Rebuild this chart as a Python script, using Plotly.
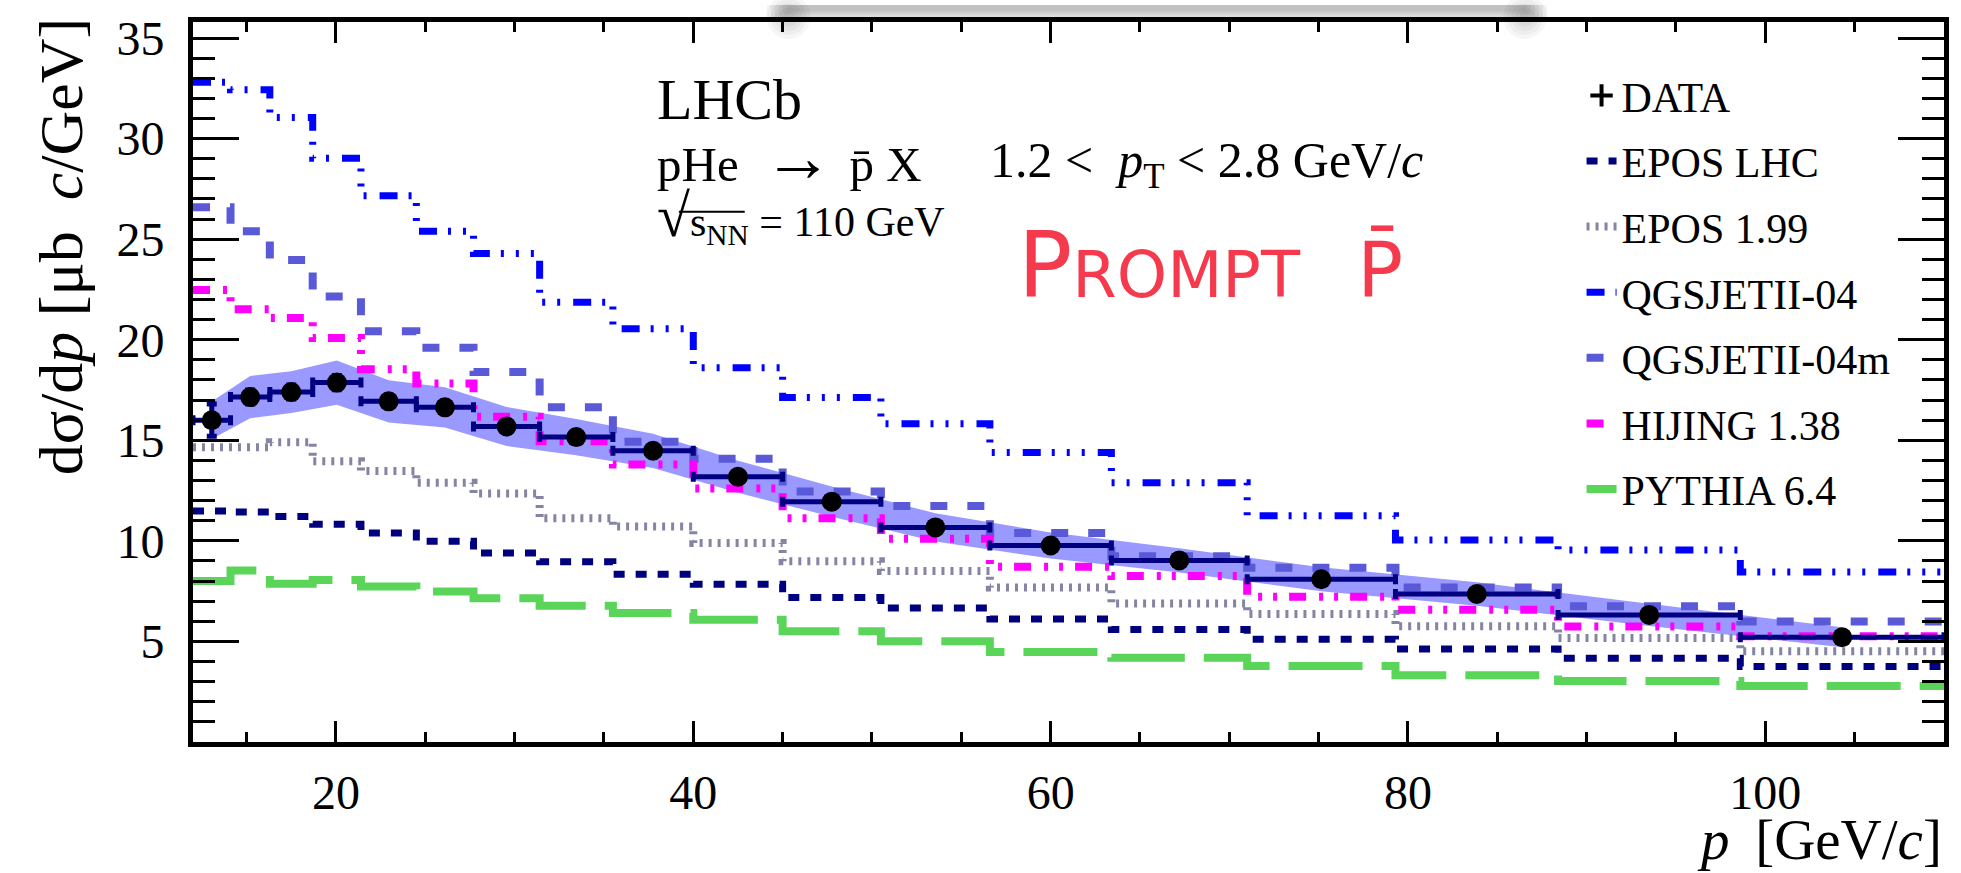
import plotly.graph_objects as go

# ---------------- data ----------------
bin_edges = [12.0, 14.1, 16.3, 18.7, 21.4, 24.5, 27.7, 31.4, 35.5, 40.0,
             45.0, 50.5, 56.6, 63.4, 71.0, 79.3, 88.4, 98.6, 110.0]
p_centers = [13.05, 15.2, 17.5, 20.05, 22.95, 26.1, 29.55, 33.45, 37.75, 42.5,
             47.75, 53.55, 60.0, 67.2, 75.15, 83.85, 93.5, 104.3]

data_xsec = [16.0, 17.15, 17.4, 17.87, 16.94, 16.64, 15.69, 15.16, 14.48, 13.19,
             11.95, 10.67, 9.77, 9.03, 8.09, 7.36, 6.32, 5.21]
stat_err = [0.8, 0.35, 0.35, 0.35, 0.3, 0.3, 0.3, 0.3, 0.3, 0.25,
            0.25, 0.2, 0.2, 0.2, 0.2, 0.2, 0.2, 0.2]
syst_err = [0.93, 1.05, 1.04, 1.1, 1.05, 1.0, 0.97, 0.9, 0.85, 0.8,
            0.75, 0.7, 0.65, 0.6, 0.6, 0.58, 0.55, 0.5]

epos_lhc = [11.49, 11.43, 11.21, 10.83, 10.39, 9.98, 9.40, 8.96, 8.34, 7.84,
            7.18, 6.66, 6.12, 5.59, 5.11, 4.63, 4.17, 3.76]
epos_199 = [14.66, 14.66, 14.9, 13.96, 13.47, 12.89, 12.36, 11.13, 10.72, 9.90,
            8.99, 8.50, 7.68, 6.89, 6.36, 5.75, 5.17, 4.51]
qgsjet_04 = [32.8, 32.43, 31.05, 29.02, 27.16, 25.39, 24.29, 21.87, 20.55, 18.61,
             17.13, 15.82, 14.39, 12.89, 11.25, 10.05, 9.55, 8.45]
qgsjet_04m = [26.59, 25.39, 23.96, 22.15, 20.42, 19.6, 18.4, 16.64, 14.93, 14.09,
              12.45, 11.74, 10.39, 9.24, 8.66, 7.68, 6.75, 5.99]
hijing = [22.48, 21.52, 21.08, 20.09, 18.54, 17.83, 16.17, 14.95, 13.8, 12.6,
          11.12, 10.1, 8.71, 8.25, 7.22, 6.58, 5.74, 5.26]
pythia = [8.0, 8.53, 7.87, 8.05, 7.73, 7.48, 7.15, 6.77, 6.41, 6.08,
          5.51, 5.01, 4.47, 4.19, 3.78, 3.32, 3.03, 2.79]

y_tickvals = [5, 10, 15, 20, 25, 30, 35]
y_ticktext = ["5", "10", "15", "20", "25", "30", "35"]

model_names = ["EPOS LHC", "EPOS 1.99", "QGSJETII-04", "QGSJETII-04m", "HIJING 1.38", "PYTHIA 6.4"]
model_values = [epos_lhc, epos_199, qgsjet_04, qgsjet_04m, hijing, pythia]

# ---------------- styles ----------------
NAVY = "#000080"
model_styles = {
    "EPOS LHC": dict(color="#00007F", width=7, dash="11px,11px"),
    "EPOS 1.99": dict(color="#8585A3", width=8, dash="3px,6px"),
    "QGSJETII-04": dict(color="#0000FF", width=7, dash="18px,11px,3px,12px,3px,12px,3px,13px"),
    "QGSJETII-04m": dict(color="#5A5AD8", width=8, dash="17px,20px"),
    "HIJING 1.38": dict(color="#FF00FF", width=8, dash="17px,13px,4px,11px,4px,12px"),
    "PYTHIA 6.4": dict(color="#5AD55A", width=8, dash="74px,19px"),
}
FONT = "Liberation Serif"

fig = go.Figure()

# systematic band
upper = [v + e for v, e in zip(data_xsec, syst_err)]
lower = [v - e for v, e in zip(data_xsec, syst_err)]
fig.add_trace(go.Scatter(
    x=p_centers + p_centers[::-1], y=upper + lower[::-1],
    fill="toself", fillcolor="rgb(153,153,255)", line=dict(width=0),
    mode="lines", showlegend=False, hoverinfo="skip"))

# model histograms
for rank, (name, vals) in enumerate(zip(model_names, model_values), start=2):
    st = model_styles[name]
    fig.add_trace(go.Scatter(
        x=bin_edges, y=vals + [vals[-1]], mode="lines", name=name,
        legendgroup=name, legendrank=rank,
        line=dict(shape="hv", color=st["color"], width=st["width"], dash=st["dash"])))

# data points
xminus = [c - lo for c, lo in zip(p_centers, bin_edges[:-1])]
xplus = [hi - c for c, hi in zip(p_centers, bin_edges[1:])]
fig.add_trace(go.Scatter(
    x=p_centers, y=data_xsec, mode="markers", showlegend=False,
    marker=dict(color="black", size=20),
    error_x=dict(type="data", symmetric=False, array=xplus, arrayminus=xminus,
                 color=NAVY, thickness=5, width=5),
    error_y=dict(type="data", array=stat_err, color=NAVY, thickness=5, width=5)))

# legend entry for data (cross symbol)
fig.add_trace(go.Scatter(
    x=[None], y=[None], mode="markers", name="DATA", legendgroup="DATA", legendrank=1,
    marker=dict(symbol="cross-thin", size=30, color="black", line=dict(width=4, color="black"))))

# ---------------- layout ----------------
axis_common = dict(showline=True, linewidth=5, linecolor="black", mirror="ticks",
                   ticks="inside", tickwidth=3, tickcolor="black", showgrid=False,
                   zeroline=False, tickfont=dict(family=FONT, size=48, color="black"))

fig.update_layout(
    width=1961, height=873,
    margin=dict(l=193, r=13, t=17, b=131),
    paper_bgcolor="white", plot_bgcolor="white",
    font=dict(family=FONT, color="black"),
    xaxis=dict(range=[12, 110], tickmode="linear", tick0=0, dtick=20, ticklen=21,
               ticklabelstandoff=4,
               minor=dict(ticks="inside", ticklen=10, tickwidth=3, tickcolor="black",
                          tickmode="linear", tick0=0, dtick=5),
               **axis_common),
    yaxis=dict(range=[0, 35.8], tickmode="array", tickvals=y_tickvals, ticktext=y_ticktext,
               ticklen=46, ticklabelstandoff=14,
               minor=dict(ticks="inside", ticklen=22, tickwidth=3, tickcolor="black",
                          tickmode="linear", tick0=0, dtick=1),
               **axis_common),
    legend=dict(x=0.793, y=0.945, xanchor="left", yanchor="top",
                bgcolor="rgba(0,0,0,0)", borderwidth=0,
                font=dict(family=FONT, size=42, color="black"),
                tracegroupgap=8, traceorder="grouped"),
    showlegend=True,
)

W, H, L, B = 1755.0, 725.0, 193.0, 742.0


def px(x):
    return (x - L) / W


def py(y):
    return (B - y) / H


annotations = [
    dict(text="LHCb", x=px(656), y=py(95), font=dict(size=58)),
    dict(text="pHe\u00a0\u00a0<span style='font-size:70px'>\u2192</span>\u00a0\u200ap\u0304\u00a0X",
         x=px(656), y=py(153), font=dict(size=49)),
    dict(text="<span style='font-size:60px'>\u221a</span>s<sub>NN</sub> = 110 GeV",
         x=px(656), y=py(213), font=dict(size=42)),
    dict(text="1.2 <  <i>p</i><sub>T</sub> < 2.8 GeV/<i>c</i>", x=px(990), y=py(160),
         font=dict(size=50)),
    dict(text="P<span style='font-size:64px'>ROMPT</span>\u00a0\u00a0<span style='font-size:76px'>P\u0304</span>",
         x=px(1018), y=py(262), font=dict(size=90, color="#F43A4C", family="DejaVu Sans")),
]
for a in annotations:
    a.update(xref="paper", yref="paper", xanchor="left", yanchor="middle", showarrow=False)
    a["font"].setdefault("family", FONT)
    a["font"].setdefault("color", "black")

annotations.append(dict(text="d\u03c3/d<i>p</i> [\u03bcb\u00a0\u00a0<i>c</i>/GeV]",
                        xref="paper", yref="paper", x=px(61), y=py(10), textangle=-90,
                        xanchor="center", yanchor="top", showarrow=False,
                        font=dict(family=FONT, size=62, color="black")))
annotations.append(dict(text="<i>p</i>\u00a0\u2009[GeV/<i>c</i>]",
                        xref="paper", yref="paper", x=1.0, y=py(840),
                        xanchor="right", yanchor="middle", showarrow=False,
                        font=dict(family=FONT, size=57, color="black")))
fig.update_layout(annotations=annotations)

# grey drop-shadow artefact at the top of the picture (soft, layered)
shapes = []
for k in range(6):
    shapes.append(dict(type="rect", xref="paper", yref="paper",
                       x0=px(768 + 4 * k), x1=px(1550 - 4 * k),
                       y0=py(16 - 2 * k), y1=py(0), fillcolor="rgba(0,0,0,0.045)",
                       line=dict(width=0), layer="above"))
for cx in (790, 1528):
    for k in range(5):
        r = 22 - 4 * k
        shapes.append(dict(type="circle", xref="paper", yref="paper",
                           x0=px(cx - r), x1=px(cx + r), y0=py(12 + r), y1=py(12 - r),
                           fillcolor="rgba(0,0,0,0.035)", line=dict(width=0), layer="above"))
# vinculum of the square root
shapes.append(dict(type="line", xref="paper", yref="paper", x0=px(680), x1=px(746),
                   y0=py(208), y1=py(208), line=dict(color="black", width=2)))
fig.update_layout(shapes=shapes)

fig.write_html("out.html")
